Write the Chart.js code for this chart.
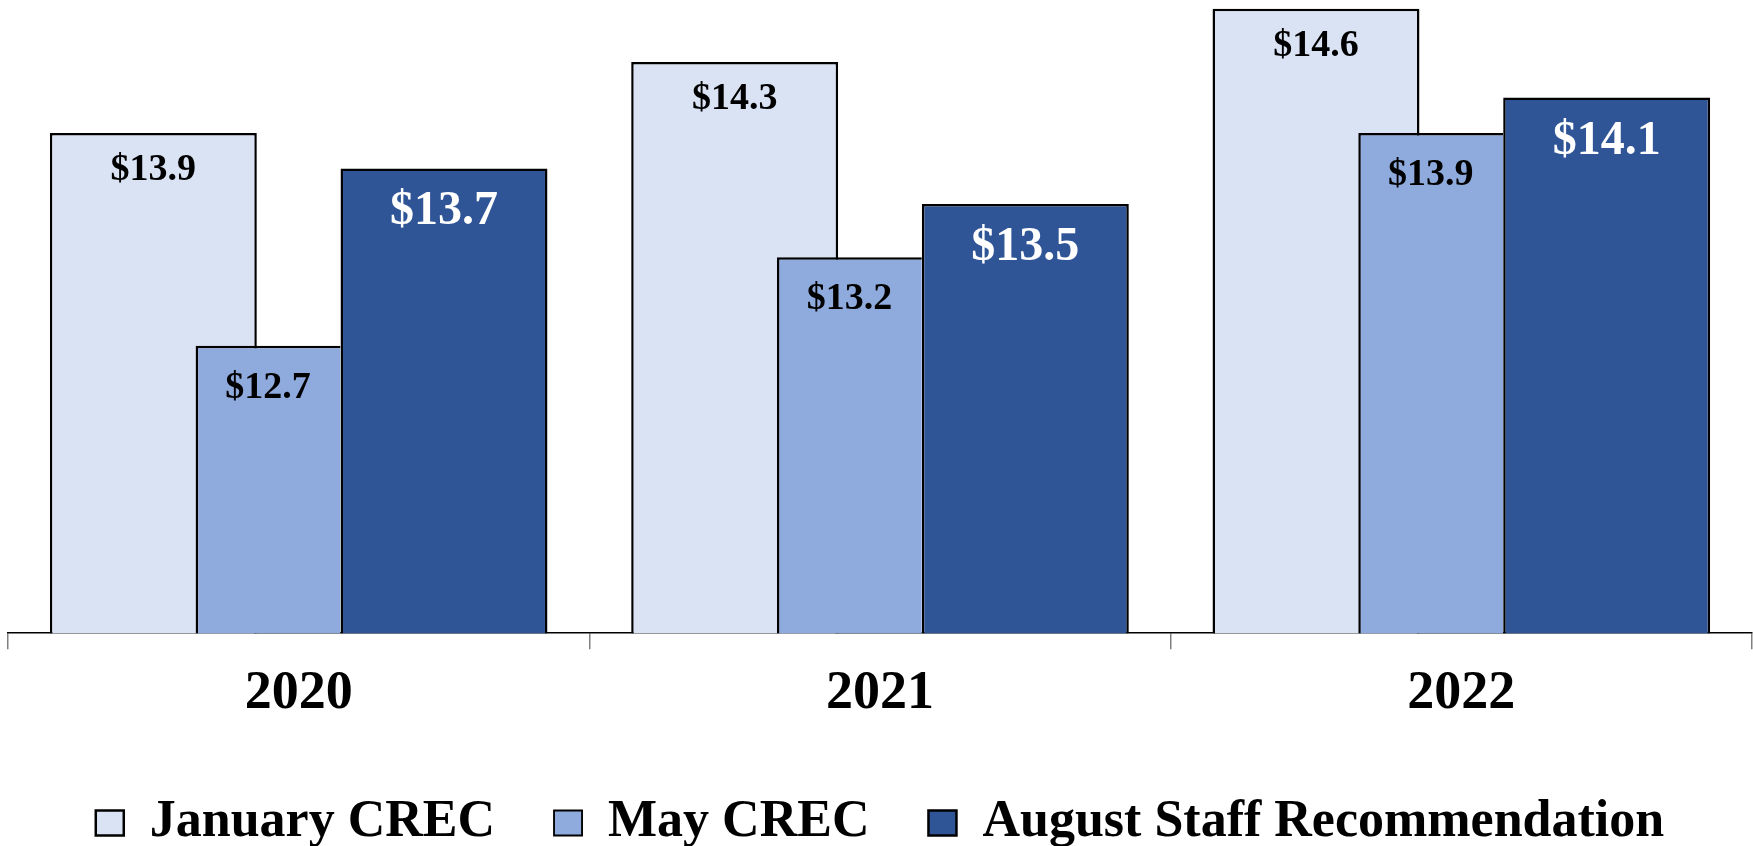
<!DOCTYPE html>
<html>
<head>
<meta charset="utf-8">
<title>CREC forecasts</title>
<script src="https://cdn.jsdelivr.net/npm/chart.js@4/dist/chart.umd.min.js"></script>
<style>
  html, body { margin: 0; padding: 0; background: #fff; }
  #wrap { width: 1753px; height: 846px; position: relative; }
</style>
</head>
<body>
<div id="wrap"><canvas id="chart"></canvas></div>
<script>
// values in $ (one decimal, as printed on the bars)
const years = ['2020', '2021', '2022'];
const seriesNames = ['January CREC', 'May CREC', 'August Staff Recommendation'];
const januaryCrec = [13.9, 14.3, 14.6];
const mayCrec = [12.7, 13.2, 13.9];
const augustStaff = [13.7, 13.5, 14.1];

const FONT = "'Liberation Serif', 'Times New Roman', serif";

// value labels drawn just inside the top of every bar
const barLabels = {
  id: 'barLabels',
  afterDatasetsDraw(chart) {
    const ctx = chart.ctx;
    chart.data.datasets.forEach((ds, i) => {
      if (!ds.valueLabel) return;
      const meta = chart.getDatasetMeta(i);
      const st = ds.valueLabel;
      ctx.save();
      ctx.font = `bold ${st.size}px ${FONT}`;
      ctx.fillStyle = st.color;
      ctx.textAlign = 'center';
      ctx.textBaseline = 'alphabetic';
      meta.data.forEach((bar, j) => {
        const v = ds.data[j];
        if (v == null) return;
        ctx.fillText('$' + v.toFixed(1), bar.x, bar.y + st.offset);
      });
      ctx.restore();
    });
  }
};

// Excel-style layout: January and August sit at the group edges,
// May overlaps January and butts against August.
// `order` sets the slot (and May drawn last, on top).
new Chart(document.getElementById('chart').getContext('2d'), {
  type: 'bar',
  data: {
    labels: years,
    datasets: [
      {
        label: seriesNames[0],
        data: januaryCrec,
        backgroundColor: '#DAE3F3',
        borderColor: '#000',
        borderWidth: 2.5,
        borderSkipped: false,
        order: 1,
        categoryPercentage: 2.0,
        barPercentage: 0.712,
        valueLabel: { size: 38, color: '#000', offset: 47 }
      },
      {
        label: seriesNames[1],
        data: mayCrec,
        backgroundColor: '#8FAADC',
        borderColor: '#000',
        borderWidth: { top: 2.5, left: 2.5, bottom: 2.5, right: 0 },
        borderSkipped: false,
        order: 0,
        categoryPercentage: 0.1404,
        barPercentage: 7.10,
        valueLabel: { size: 38, color: '#000', offset: 52 }
      },
      {
        label: seriesNames[2],
        data: augustStaff,
        backgroundColor: '#2F5597',
        borderColor: '#000',
        borderWidth: 2.5,
        borderSkipped: false,
        order: 2,
        categoryPercentage: 2.0,
        barPercentage: 0.712,
        valueLabel: { size: 48, color: '#fff', offset: 56 }
      },
      {
        // empty fourth slot, keeps the group layout asymmetric like the original
        label: '',
        data: years.map(() => null),
        order: 3
      }
    ]
  },
  options: {
    responsive: true,
    maintainAspectRatio: false,
    animation: false,
    layout: { padding: { left: 8, right: 1, top: 0, bottom: -13 } },
    scales: {
      x: {
        type: 'category',
        offset: true,
        grid: {
          offset: true,
          drawOnChartArea: false,
          drawTicks: true,
          tickLength: 16,
          color: '#808080',
          lineWidth: 1.5
        },
        border: { display: true, color: '#000', width: 1.5 },
        ticks: {
          color: '#000',
          padding: 12,
          font: { family: FONT, size: 54, weight: 'bold' }
        }
      },
      y: {
        display: false,
        min: 11.08,
        max: 14.65
      }
    },
    plugins: {
      tooltip: { enabled: false },
      legend: {
        position: 'bottom',
        labels: {
          color: '#000',
          font: { family: FONT, size: 52, weight: 'bold' },
          boxWidth: 28,
          boxHeight: 25,
          padding: 59,
          filter: item => item.text !== '',
          sort: (a, b) => a.datasetIndex - b.datasetIndex
        }
      }
    }
  },
  plugins: [barLabels]
});
</script>
</body>
</html>
